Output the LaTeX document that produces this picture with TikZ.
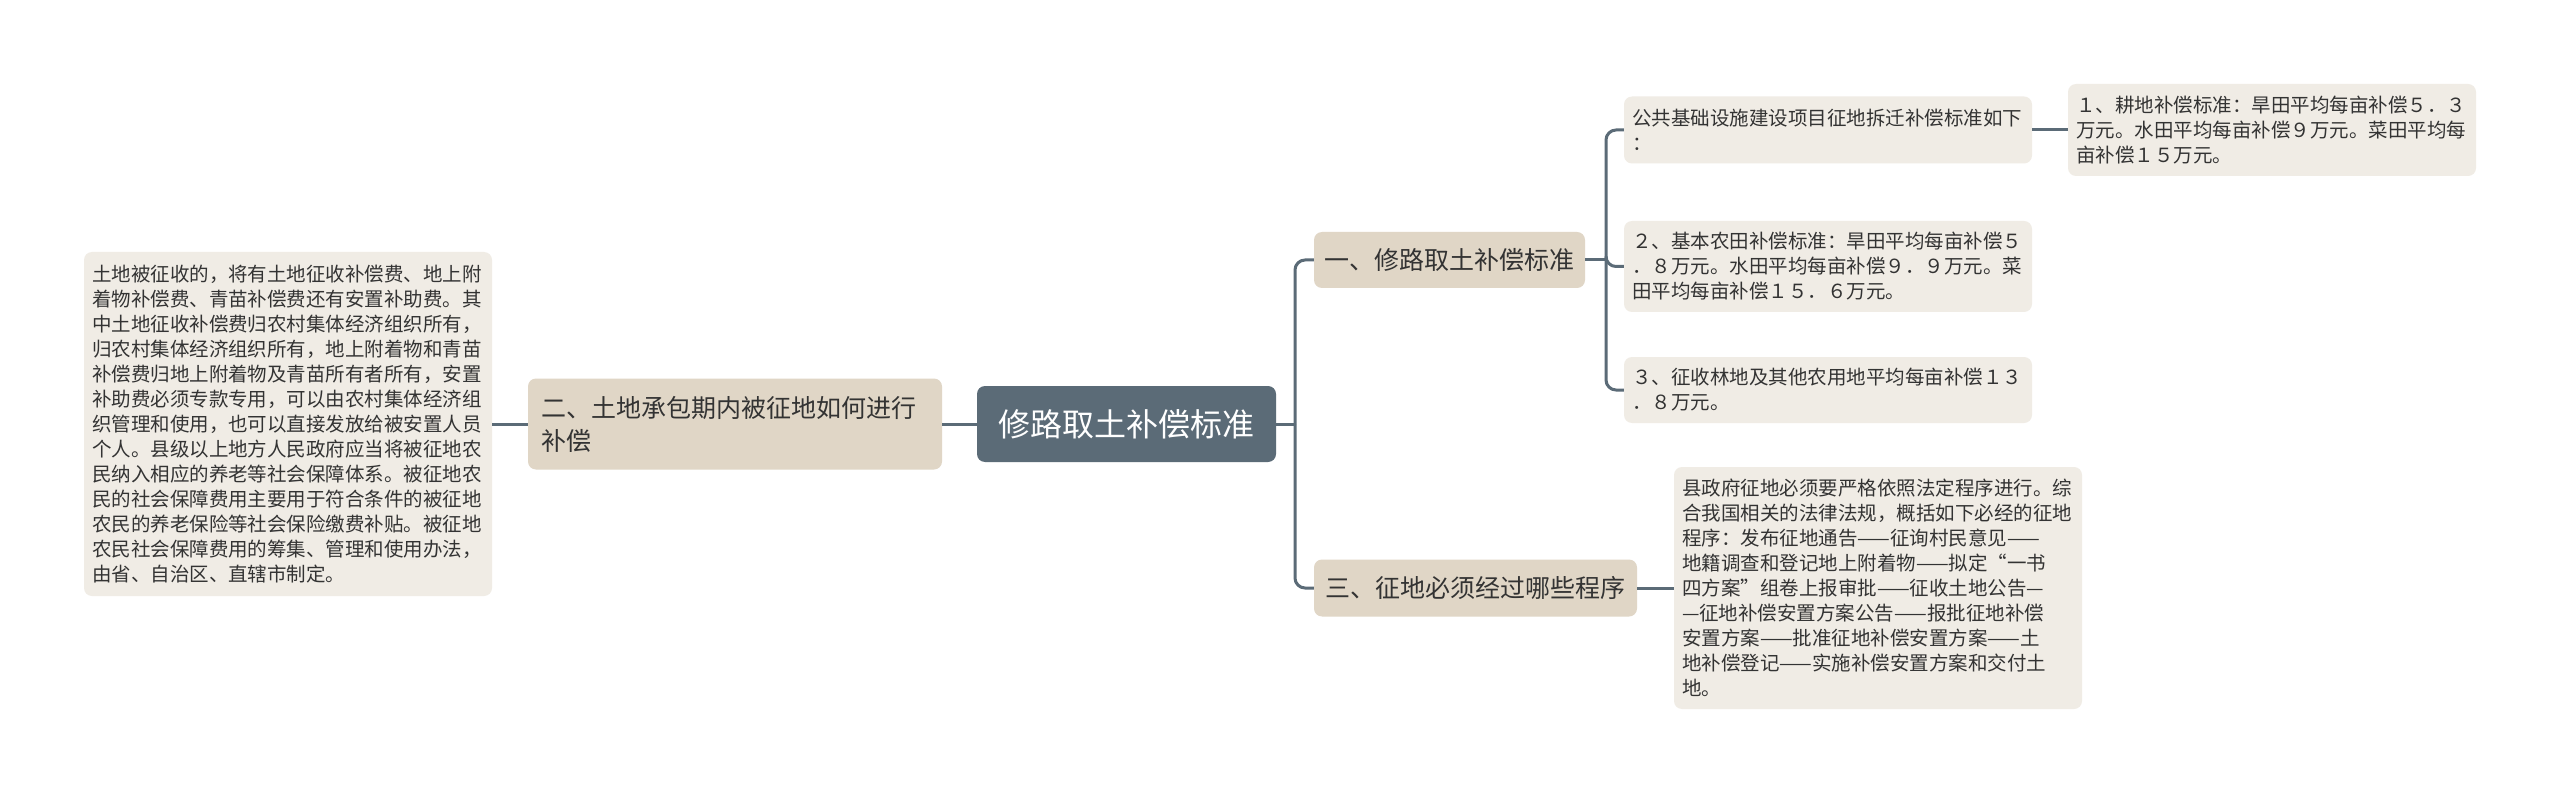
\documentclass[tikz,border=0pt]{standalone}
\usepackage{fontspec}
\setmainfont{Noto Sans CJK SC}
\usetikzlibrary{positioning}
\definecolor{linkgray}{HTML}{5B6B77}
\definecolor{rootfill}{HTML}{5B6B77}
\definecolor{branchfill}{HTML}{E0D6C6}
\definecolor{leaffill}{HTML}{F0ECE5}
\definecolor{txt}{HTML}{333333}

\begin{document}
\begin{tikzpicture}[x=1pt, y=-1pt,
            box/.style = {rounded corners=8pt, inner ysep=0pt, align=left, text=txt},
            leaf/.style = {box, fill=leaffill, text width=392pt, inner xsep=8pt,
                font=\fontsize{19.5}{25}\selectfont},
            branch/.style = {box, fill=branchfill, inner xsep=10pt,
                font=\fontsize{25}{33}\selectfont},
            link/.style = {draw=linkgray, line width=3pt, rounded corners=10pt}]
            \path[use as bounding box, fill=white] (0,0) rectangle (2560,794);
            \coordinate (hub) at (1295,424);
            \coordinate (fork) at (1606,260);
            % centre and main branches
            \node[box, fill=rootfill, text=white, align=center, minimum width=299pt,
                minimum height=76pt, font=\fontsize{32}{36}\selectfont]
                (root) at (1126.5,424) {修路取土补偿标准};
            \node[branch, text width=388pt, inner xsep=13pt, minimum height=91pt]
                (q2) at (735,424) {二、土地承包期内被征地如何进行\\补偿};
            \node[branch, align=center, minimum width=271pt, minimum height=56pt]
                (q1) at (1449.5,260) {一、修路取土补偿标准};
            \node[branch, align=center, minimum width=323pt, minimum height=57pt]
                (q3) at (1475.5,588) {三、征地必须经过哪些程序};
            % leaves
            \node[leaf, minimum height=344pt] (desc) at (288,424)
                {土地被征收的，将有土地征收补偿费、地上附\\
                 着物补偿费、青苗补偿费还有安置补助费。其\\
                 中土地征收补偿费归农村集体经济组织所有，\\
                 归农村集体经济组织所有，地上附着物和青苗\\
                 补偿费归地上附着物及青苗所有者所有，安置\\
                 补助费必须专款专用，可以由农村集体经济组\\
                 织管理和使用，也可以直接发放给被安置人员\\
                 个人。县级以上地方人民政府应当将被征地农\\
                 民纳入相应的养老等社会保障体系。被征地农\\
                 民的社会保障费用主要用于符合条件的被征地\\
                 农民的养老保险等社会保险缴费补贴。被征地\\
                 农民社会保障费用的筹集、管理和使用办法，\\
                 由省、自治区、直辖市制定。};
            \node[leaf, minimum height=67pt] (a) at (1828,130)
                {公共基础设施建设项目征地拆迁补偿标准如下\\：};
            \node[leaf, minimum height=92pt] (a1) at (2272,130)
                {１、耕地补偿标准：旱田平均每亩补偿５．３\\
                 万元。水田平均每亩补偿９万元。菜田平均每\\
                 亩补偿１５万元。};
            \node[leaf, minimum height=91pt] (b) at (1828,266.5)
                {２、基本农田补偿标准：旱田平均每亩补偿５\\
                 ．８万元。水田平均每亩补偿９．９万元。菜\\
                 田平均每亩补偿１５．６万元。};
            \node[leaf, minimum height=66pt] (c) at (1828,390)
                {３、征收林地及其他农用地平均每亩补偿１３\\
                 ．８万元。};
            \node[leaf, minimum height=242pt] (d) at (1878,588)
                {县政府征地必须要严格依照法定程序进行。综\\
                 合我国相关的法律法规，概括如下必经的征地\\
                 程序：发布征地通告——征询村民意见——\\
                 地籍调查和登记地上附着物——拟定“一书\\
                 四方案”组卷上报审批——征收土地公告—\\
                 —征地补偿安置方案公告——报批征地补偿\\
                 安置方案——批准征地补偿安置方案——土\\
                 地补偿登记——实施补偿安置方案和交付土\\
                 地。};
            % connectors
            \draw[link] (desc.east) -- (q2.west);
            \draw[link] (q2.east) -- (root.west);
            \draw[link] (root.east) -- (hub);
            \draw[link] (hub) |- (q1.west);
            \draw[link] (hub) |- (q3.west);
            \draw[link] (q1.east) -- (fork);
            \foreach \n in {a,b,c}
                \draw[link] (fork) |- (\n.west);
            \draw[link] (a.east) -- (a1.west);
            \draw[link] (q3.east) -- (d.west);
        \end{tikzpicture}
\end{document}
